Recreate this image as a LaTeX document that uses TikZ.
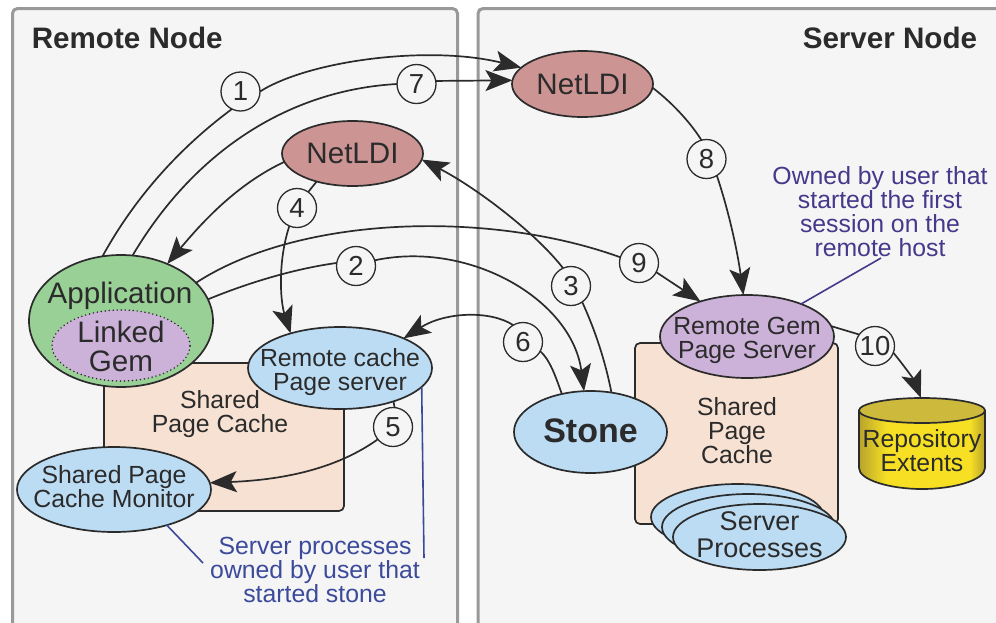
\documentclass[tikz,border=0pt]{standalone}
\usepackage{fontspec}
\setmainfont{Liberation Sans}
\usetikzlibrary{arrows.meta,shapes.geometric}

\definecolor{inkcol}{HTML}{2B2B2B}
\definecolor{panelcol}{HTML}{F5F5F5}
\definecolor{edgecol}{HTML}{999999}
\definecolor{cachecol}{HTML}{F6E1D2}
\definecolor{appcol}{HTML}{99D095}
\definecolor{netcol}{HTML}{CD9494}
\definecolor{gemcol}{HTML}{CCB2D8}
\definecolor{proccol}{HTML}{BCDCF4}
\definecolor{lidcol}{HTML}{CDB93C}
\definecolor{yellowcol}{HTML}{F7E024}
\definecolor{goldcol}{HTML}{B8A32C}
\definecolor{bluenote}{HTML}{3C4A9B}
\definecolor{purplenote}{HTML}{46388A}

\newcommand{\fsmall}{\fontsize{24.8pt}{24pt}\selectfont}
\newcommand{\fbig}{\fontsize{29.6pt}{29pt}\selectfont}
\pgfdeclarehorizontalshading{repobody}{100bp}{color(0bp)=(goldcol); color(25bp)=(goldcol); color(36bp)=(yellowcol); color(69bp)=(yellowcol); color(75bp)=(goldcol); color(100bp)=(goldcol)}

\tikzset{
	panel/.style={draw=edgecol, fill=panelcol, line width=3pt, rounded corners=5pt, anchor=north west, inner sep=0pt, outer sep=0pt},
	oval/.style 2 args={ellipse, draw=inkcol, line width=1.7pt, inner sep=0pt, outer sep=0pt, minimum width=#1, minimum height=#2},
	cache/.style={draw=inkcol, fill=cachecol, line width=1.7pt, rounded corners=5pt, anchor=north west, inner sep=0pt, outer sep=0pt},
	step num/.style={circle, draw=inkcol, fill=panelcol, line width=1.3pt, inner sep=0pt, outer sep=0pt, minimum size=39pt, text=inkcol, font=\fontsize{27.5pt}{28pt}\selectfont},
	caption/.style={align=center, text=inkcol, font=\fsmall, inner sep=0pt},
	every label/.style={align=center, text=inkcol, font=\fsmall, inner sep=0pt}
}

\begin{document}
\begin{tikzpicture}[x=1pt, y=-1pt, color=inkcol, >={Stealth[length=27pt,width=21pt,inset=6pt]}, line width=1.7pt]
	\clip (0,0) rectangle (996,622);

	% Panels
	\node [panel, minimum width=445pt, minimum height=640pt] (remote) at (12.5,8.5) {};
	\node [panel, minimum width=540pt, minimum height=640pt] (server) at (478,8.5) {};
	\node [caption, anchor=west, font=\fbig\bfseries] (remotetitle) at (31,38) {Remote Node};
	\node [caption, anchor=east, font=\fbig\bfseries] (servertitle) at (978,38) {Server Node};

	% Caches
	\node [cache, minimum width=240pt, minimum height=148pt] (cacheR) at (104,363) {};
	\node [cache, minimum width=203pt, minimum height=181pt] (cacheS) at (635,343) {};
	\node [caption] (cacheRtext) at (220,414) {Shared\\Page Cache};
	\node [caption] (cacheStext) at (737,431) {Shared\\Page\\Cache};

	% Ovals on the remote node
	\node [oval={184pt}{132pt}, fill=appcol] (app) at (121,321) {};
	\node [caption, font=\fbig] (apptext) at (120,296) {Application};
	\node [oval={138pt}{71pt}, fill=gemcol, line cap=round, dash pattern=on 0pt off 4pt, label={[font=\fbig, yshift=-1pt]center:Linked\\Gem}] (gem) at (121,345.5) {};
	\node [oval={141pt}{65pt}, fill=netcol, label={[font=\fbig]center:NetLDI}] (netR) at (352.5,153.5) {};
	\node [oval={184pt}{82pt}, fill=proccol, label={[yshift=-4.5pt]center:Remote cache\\Page server}] (pager) at (340,368) {};
	\node [oval={194pt}{85pt}, fill=proccol, label={[yshift=3pt]center:Shared Page\\Cache Monitor}] (monitor) at (114,489.5) {};

	% Ovals on the server node
	\node [oval={141pt}{66pt}, fill=netcol, label={[font=\fbig]center:NetLDI}] (netS) at (582.5,84) {};
	\node [oval={153pt}{82pt}, fill=proccol, label={[font=\fontsize{34pt}{34pt}\selectfont\bfseries, yshift=1pt]center:Stone}] (stone) at (590.5,432) {};
	\node [oval={174pt}{83pt}, fill=gemcol, label={[yshift=-4pt]center:Remote Gem\\Page Server}] (pages) at (747,336.5) {};
	\node [oval={173pt}{66pt}, fill=proccol] (spa) at (737.5,517) {};
	\node [oval={173pt}{66pt}, fill=proccol] (spb) at (748.5,527) {};
	\node [oval={173pt}{66pt}, fill=proccol, label={[font=\fontsize{27pt}{27pt}\selectfont, yshift=2pt]center:Server\\Processes}] (spc) at (759.5,537) {};

	% Repository
	\draw [shading=repobody, draw=inkcol] (859,410.5) -- (859,468) .. controls (859,480) and (890,489) .. (922,489) .. controls (954,489) and (985,480) .. (985,468) -- (985,410.5) -- cycle;
	\node [oval={126pt}{25pt}, fill=lidcol] (repo) at (922,410.5) {};
	\node [caption] (repotext) at (922,451) {Repository\\Extents};

	% Steps
	\node [step num] (n1) at (240.5,91.5) {1};
	\node [step num] (n2) at (356,266) {2};
	\node [step num] (n3) at (571,286) {3};
	\node [step num] (n4) at (297,208) {4};
	\node [step num] (n5) at (393,427) {5};
	\node [step num] (n6) at (523,342) {6};
	\node [step num] (n7) at (416.5,84) {7};
	\node [step num] (n8) at (706.5,159) {8};
	\node [step num] (n9) at (639,263) {9};
	\node [step num] (n10) at (875,346) {10};

	% Paths
	\draw [-] (app.106) .. controls (140,188) and (190,140) .. (n1.244);
	\draw [->] (n1.0) .. controls (310,60) and (430,45) .. (netS.165);
	\draw [-] (app.80) .. controls (195,150) and (290,90) .. (n7.180);
	\draw [->] (n7.9) -- (netS.177);
	\draw [->] (netR.187) .. controls (235,185) and (200,225) .. (app.51);
	\draw [-] (netR.218) -- (n4.55);
	\draw [->] (n4.247) .. controls (278,260) and (280,300) .. (pager.145);
	\draw [-] (app.14) .. controls (255,280) and (300,268) .. (n2.171);
	\draw [->] (n2.17) .. controls (470,240) and (572,300) .. (stone.99);
	\draw [-] (app.27) .. controls (300,215) and (490,210) .. (n9.163);
	\draw [->] (n9.332) -- (pages.143);
	\draw [-] (stone.62) .. controls (605,360) and (595,330) .. (n3.305);
	\draw [->] (n3.114) .. controls (535,232) and (475,187) .. (netR.355);
	\draw [-] (netS.357) .. controls (675,105) and (692,125) .. (n8.105);
	\draw [->] (n8.302) .. controls (730,215) and (738,255) .. (pages.95);
	\draw [-] (pager.328) -- (n5.85);
	\draw [->] (n5.219) .. controls (335,470) and (280,480) .. (monitor.4);
	\draw [-] (stone.127) .. controls (555,375) and (550,360) .. (n6.332);
	\draw [->] (n6.120) .. controls (490,310) and (445,312) .. (pager.25);
	\draw [-] (pages.7) -- (n10.144);
	\draw [->] (n10.340) .. controls (905,367) and (914,380) .. (repo.95);

	% Notes
	\node [caption, text=bluenote] (bluetext) at (315,570) {Server processes\\owned by user that\\started stone};
	\node [caption, text=purplenote] (purpletext) at (880,212) {Owned by user that\\started the first\\session on the\\remote host};
	\coordinate (bluea) at (203,563);
	\coordinate (blueb) at (424,558);
	\coordinate (purplea) at (881,258);
	\draw [bluenote, line width=1.6pt] (monitor.326) -- (bluea);
	\draw [bluenote, line width=1.6pt] (pager.347) -- (blueb);
	\draw [purplenote, line width=1.6pt] (pages.31) -- (purplea);
\end{tikzpicture}
\end{document}
